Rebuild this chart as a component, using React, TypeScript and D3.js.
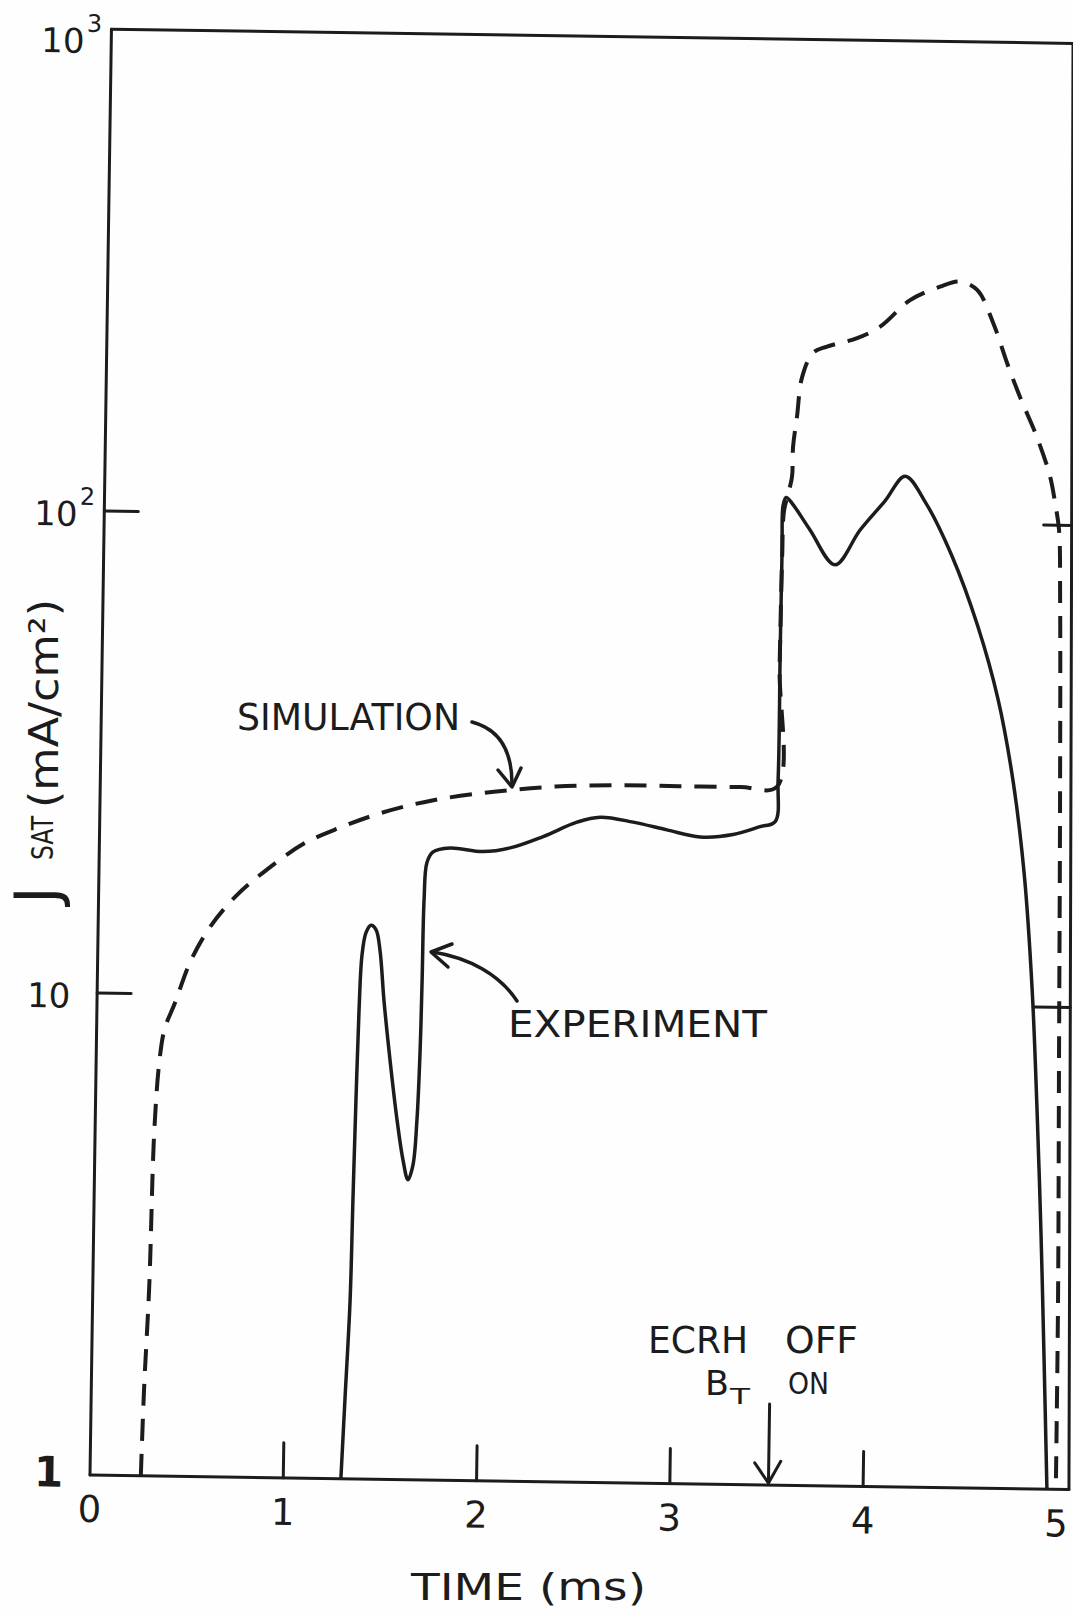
import React from "react";
import * as d3 from "d3";

// simulation (dashed) — time in ms, J_sat in mA/cm^2
const simTime = [0.263, 0.273, 0.292, 0.306, 0.328, 0.352, 0.403, 0.48, 0.583, 0.714, 0.872, 1.056, 1.241, 1.453, 1.718, 2.037, 2.356, 2.675, 2.994, 3.313, 3.5, 3.505, 3.51, 3.516, 3.541, 3.555, 3.558, 3.576, 3.599, 3.654, 3.726, 3.881, 3.999, 4.152, 4.306, 4.409, 4.498, 4.583, 4.659, 4.728, 4.819, 4.89, 4.918, 4.94, 4.951, 4.966, 4.98, 4.994, 4.997];
const simValue = [1.0, 1.51, 2.48, 5.18, 7.31, 8.47, 9.59, 11.7, 13.9, 16.1, 18.3, 20.7, 22.4, 24.1, 25.7, 26.9, 27.7, 28.0, 28.0, 28.0, 28.1, 50, 85, 105, 116, 124, 143, 165, 199, 224, 231, 241, 255, 290, 310, 318, 306, 262, 216, 184, 152, 126, 111, 97.8, 70, 26.9, 8.16, 2.47, 1.0];

// experiment (solid)
const expTime = [1.298, 1.313, 1.332, 1.339, 1.347, 1.356, 1.367, 1.386, 1.411, 1.438, 1.46, 1.484, 1.52, 1.561, 1.595, 1.622, 1.647, 1.664, 1.675, 1.68, 1.684, 1.696, 1.727, 1.814, 1.985, 2.125, 2.295, 2.469, 2.588, 2.759, 2.935, 3.107, 3.277, 3.416, 3.494, 3.506, 3.507, 3.509, 3.511, 3.526, 3.557, 3.652, 3.784, 3.911, 4.038, 4.14, 4.25, 4.387, 4.526, 4.638, 4.722, 4.786, 4.836, 4.871, 4.901, 4.926, 4.951];
const expValue = [1.0, 1.46, 2.35, 3.79, 6.11, 9.4, 12.2, 13.6, 14.1, 13.8, 12.5, 9.87, 7.42, 5.57, 4.6, 4.19, 4.5, 5.58, 7.8, 10.9, 16.0, 19.1, 20.1, 20.5, 20.2, 20.6, 21.8, 23.4, 24.0, 23.5, 22.7, 22.0, 22.3, 23.2, 23.8, 29.1, 54.1, 87.2, 108, 112, 109, 96.1, 81.5, 96.4, 111, 125, 110, 85.9, 61.6, 43.3, 29.3, 18.9, 10.9, 6.09, 3.37, 1.87, 1.0];

const xTicks = [0, 1, 2, 3, 4, 5];
const yTicks = [1, 10, 100, 1000];
const yTickBase = ["1", "10", "10", "10"];
const yTickExp = ["", "", "2", "3"];
const ecrhOffTime = 3.51;

const ink = "#1c1c1c";
const font = "'DejaVu Sans', sans-serif";

export default function App() {
  const x = d3.scaleLinear().domain([0, 5]).range([90, 1056.5]);
  const y = d3.scaleLog().domain([1, 1000]).range([1475, 29]);

  const line = d3
    .line<[number, number]>()
    .x(d => x(d[0]))
    .y(d => y(d[1]))
    .curve(d3.curveCatmullRom.alpha(0.5));

  const simPath = line(simTime.map((t, i) => [t, simValue[i]] as [number, number]));
  const expPath = line(expTime.map((t, i) => [t, expValue[i]] as [number, number]));

  // the drawn frame is not quite square: right edge leans a little
  const rightAt = (v: number) => 5.065 - 0.09 * (Math.log10(v) / 3);
  const x0 = x(0);
  const yb = y(1);
  const ax = x(ecrhOffTime);

  return (
    <svg width={1073} height={1613} style={{ position: "absolute", left: 0, top: 0, display: "block" }}
      fontFamily={font} fill={ink}>
      <rect width={1073} height={1613} fill="#fefefe" />

      {/* the whole sheet is tilted slightly */}
      <g transform={`rotate(0.85 ${x0} ${yb})`}>
        <g stroke={ink} strokeWidth={3} fill="none" strokeLinecap="round">
          <path d={`M${x0},${yb}L${x0},${y(1000)}`} />
          <path d={`M${x0},${y(1000)}L${x(5.3)},${y(1000)}`} />
          <path d={`M${x0},${yb}L${x(rightAt(1))},${yb}`} />
          <path d={`M${x(rightAt(1))},${yb}L${x(rightAt(1000))},${y(1000)}`} />
          {xTicks.filter(t => t > 0 && t < 5).map(t => (
            <path key={t} d={`M${x(t)},${yb}L${x(t)},${yb - 35}`} />
          ))}
          {yTicks.filter(v => v > 1 && v < 1000).map(v => (
            <path key={"l" + v} d={`M${x0},${y(v)}L${x0 + 34},${y(v)}`} />
          ))}
          {yTicks.filter(v => v > 1 && v < 1000).map(v => (
            <path key={"r" + v} d={`M${x(rightAt(v)) - (v === 10 ? 36 : 28)},${y(v)}L${x(rightAt(v))},${y(v)}`} />
          ))}
          {/* ECRH off marker */}
          <path d={`M${ax},${yb - 81}L${ax},${yb - 2}`} />
          <path d={`M${ax - 14},${yb - 22}L${ax},${yb - 2}L${ax + 12},${yb - 24}`} />
        </g>

        <path d={simPath || ""} fill="none" stroke={ink} strokeWidth={4} strokeDasharray="22 13" />
        <path d={expPath || ""} fill="none" stroke={ink} strokeWidth={3.5} strokeLinejoin="round" />

        {xTicks.map(t => (
          <text key={t} x={x(t)} y={yb + 47} fontSize={37} textAnchor="middle">{t}</text>
        ))}
        {yTicks.map((v, i) => {
          if (v === 1) {
            return <text key={v} x={x0 - 56} y={y(v) + 12} fontSize={42} fontWeight="bold">{yTickBase[i]}</text>;
          }
          const base = y(v) + (v === 1000 ? 24 : 15);
          return (
            <text key={v} x={x0 - 70} y={base} fontSize={34}>
              {yTickBase[i]}
              {yTickExp[i] && <tspan dx={2} dy={-21} fontSize={24}>{yTickExp[i]}</tspan>}
            </text>
          );
        })}
      </g>

      {/* axis titles */}
      <text x={411} y={1600} fontSize={38} textLength={235} lengthAdjust="spacingAndGlyphs">TIME (ms)</text>
      <g transform="translate(57 916) rotate(-90)">
        <text x={12} y={0} fontSize={60}>J</text>
        <text x={56} y={-4} fontSize={31} textLength={44} lengthAdjust="spacingAndGlyphs">SAT</text>
        <text x={108} y={1} fontSize={40} textLength={209} lengthAdjust="spacingAndGlyphs">(mA/cm²)</text>
      </g>

      {/* annotations */}
      <text x={237} y={730} fontSize={37} textLength={223} lengthAdjust="spacingAndGlyphs">SIMULATION</text>
      <g stroke={ink} strokeWidth={3.5} fill="none" strokeLinecap="round" strokeLinejoin="round">
        <path d="M472,722C495,728 512,745 512,784" />
        <path d="M498,770L512,787L521,768" />
        <path d="M517,1001C500,975 470,958 433,952" />
        <path d="M452,944L431,952L448,967" />
      </g>
      <text x={508} y={1037} fontSize={37} textLength={259} lengthAdjust="spacingAndGlyphs">EXPERIMENT</text>

      <text x={648} y={1353} fontSize={38} textLength={100} lengthAdjust="spacingAndGlyphs">ECRH</text>
      <text x={785} y={1353} fontSize={38} textLength={73} lengthAdjust="spacingAndGlyphs">OFF</text>
      <text x={705} y={1395} fontSize={33} textLength={24} lengthAdjust="spacingAndGlyphs">B</text>
      <text x={730} y={1404} fontSize={22} textLength={20} lengthAdjust="spacingAndGlyphs">T</text>
      <text x={788} y={1394} fontSize={31} textLength={41} lengthAdjust="spacingAndGlyphs">ON</text>
    </svg>
  );
}
